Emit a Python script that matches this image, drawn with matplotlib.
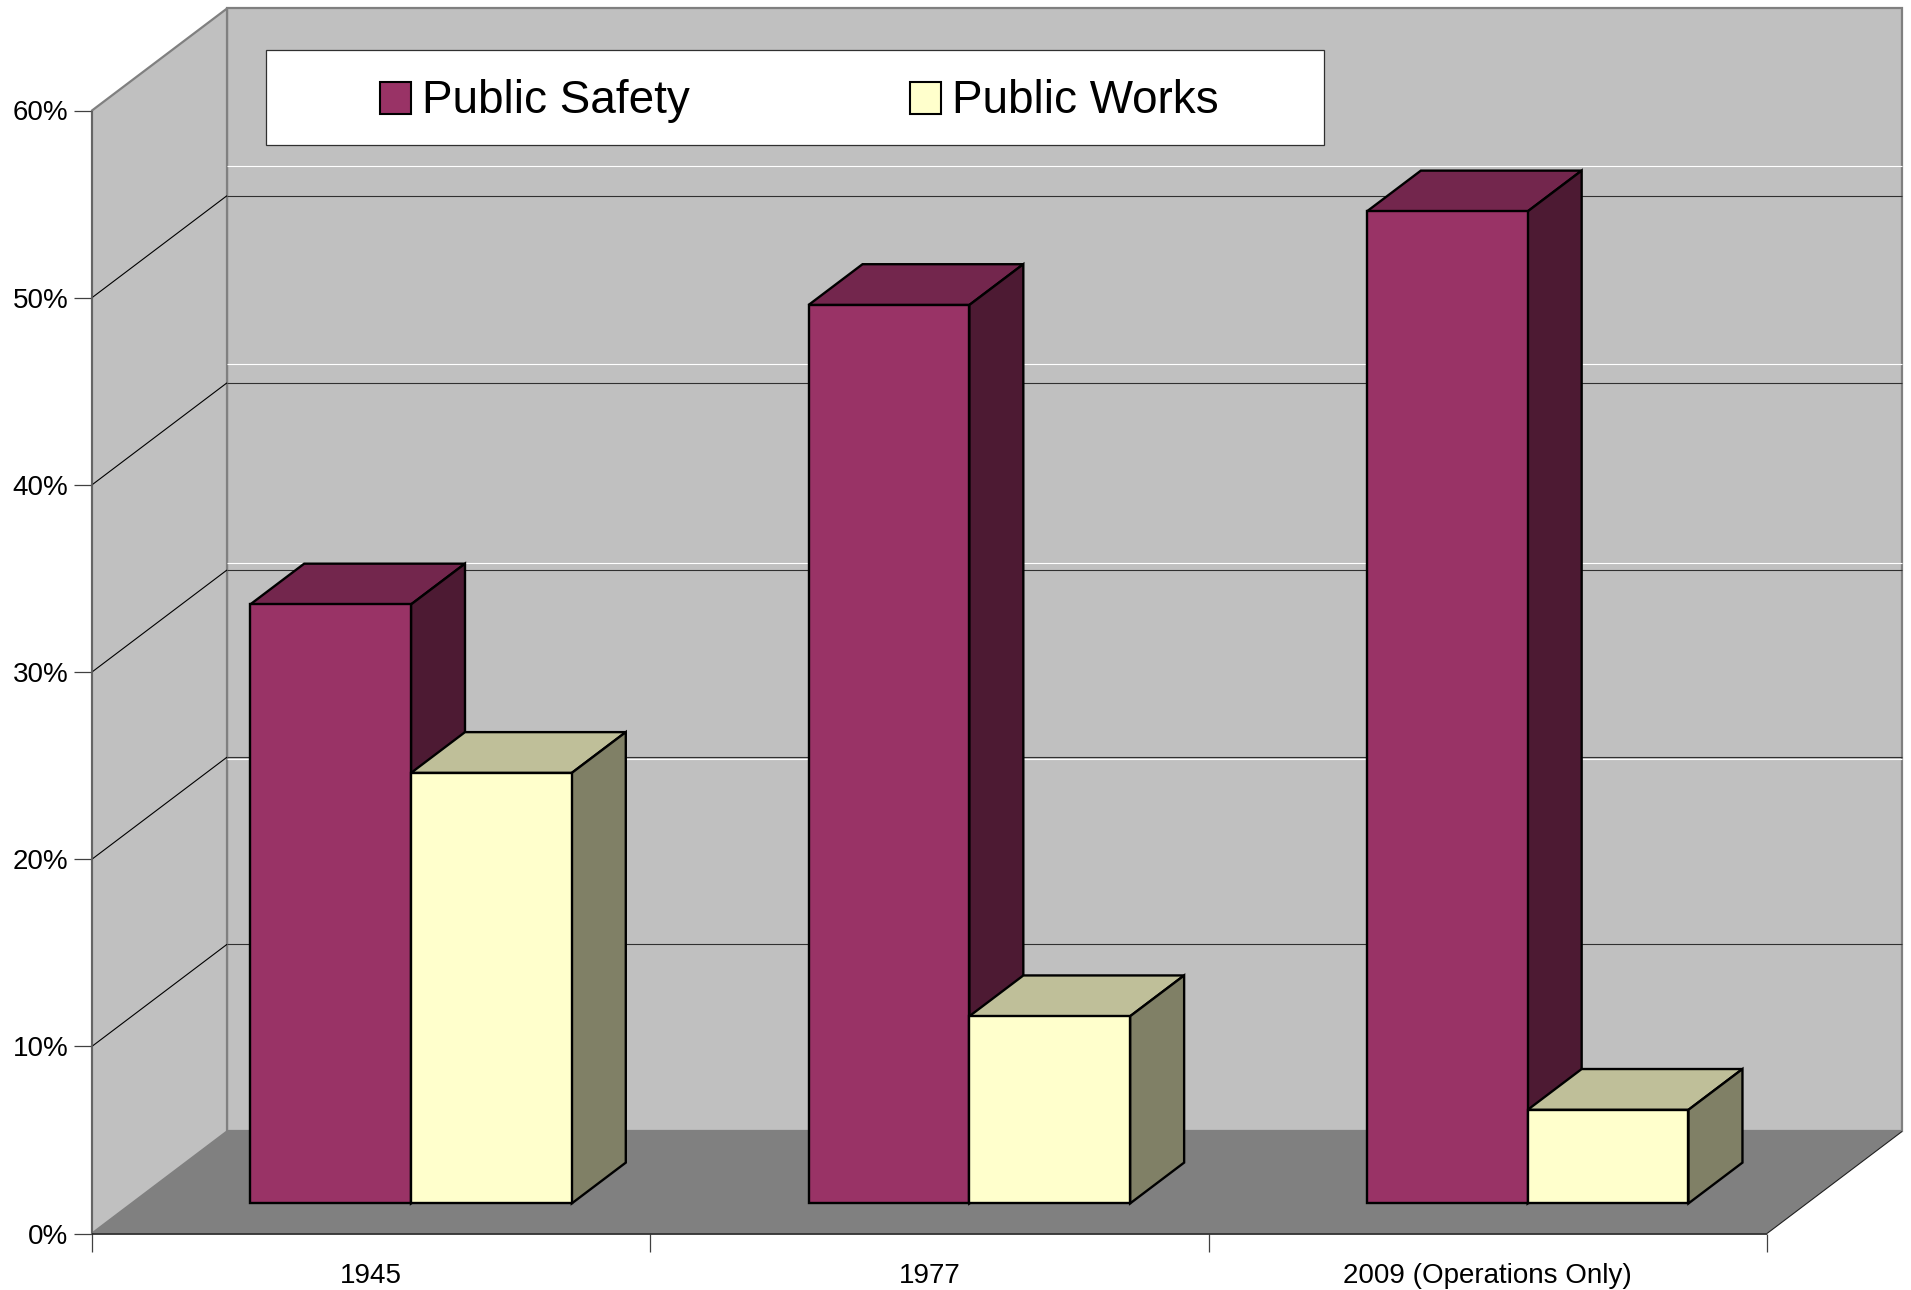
import matplotlib
matplotlib.use('Agg')
import matplotlib.pyplot as plt
from matplotlib.patches import Polygon, Rectangle

plt.rcParams['font.family'] = ['Liberation Sans', 'DejaVu Sans']

# данные
categories = ['1945', '1977', '2009 (Operations Only)']
public_safety = [32, 48, 53]
public_works = [23, 10, 5]
y_ticks = [0, 10, 20, 30, 40, 50, 60]
y_labels = ['0%', '10%', '20%', '30%', '40%', '50%', '60%']
white_lines = [51.6, 41.0, 30.4, 19.9]  # белые линии на задней стенке, в процентах

W, H = 1911, 1290
LEFT, RIGHT, TOP, BOTTOM = 92, 1767, 110.5, 1233.5

# глубина в единицах осей
DX, DY = 0.2418, 5.45
BAR_W = 0.288
BAR_START = 0.295  # где передняя грань столбцов внутри глубины
BAR_DEPTH = 0.4

fig = plt.figure(figsize=(W / 100, H / 100), dpi=100, facecolor='white')
ax = fig.add_axes([LEFT / W, 1 - BOTTOM / H, (RIGHT - LEFT) / W, (BOTTOM - TOP) / H])
ax.set_xlim(0, 3)
ax.set_ylim(0, 60)
ax.patch.set_visible(False)
for s in ax.spines.values():
    s.set_visible(False)


def poly(pts, fc, ec='none', lw=0, z=1):
    ax.add_patch(Polygon(pts, closed=True, facecolor=fc, edgecolor=ec, linewidth=lw,
                         joinstyle='miter', clip_on=False, zorder=z))


def line(xs, ys, color, lw=0.8, z=2):
    ax.plot(xs, ys, color=color, lw=lw, clip_on=False, zorder=z, solid_capstyle='butt')


# стенки и пол
poly([(DX, DY), (3 + DX, DY), (3 + DX, 60 + DY), (DX, 60 + DY)], '#C0C0C0', '#808080', 1.6)
poly([(0, 0), (DX, DY), (DX, 60 + DY), (0, 60)], '#C0C0C0', '#808080', 1.6)
poly([(0, 0), (3, 0), (3 + DX, DY), (DX, DY)], '#808080')
line([0, 3], [0, 0], '#202020', 1.2, 3)
line([3, 3 + DX], [0, DY], '#202020', 0.8, 3)

# сетка
for v in y_ticks[1:-1]:
    line([0, DX], [v, v + DY], 'black')
    line([DX, 3 + DX], [v + DY, v + DY], '#303030')
for v in white_lines:
    line([DX, 3 + DX], [v + DY, v + DY], 'white')


def bar3d(x, val, front, top, side):
    x0 = x + BAR_START * DX
    y0 = BAR_START * DY
    x1 = x0 + BAR_W
    y1 = y0 + val
    dx, dy = BAR_DEPTH * DX, BAR_DEPTH * DY
    poly([(x0, y1), (x1, y1), (x1 + dx, y1 + dy), (x0 + dx, y1 + dy)], top, 'black', 1.7, 5)
    poly([(x1, y0), (x1 + dx, y0 + dy), (x1 + dx, y1 + dy), (x1, y1)], side, 'black', 1.7, 5)
    poly([(x0, y0), (x1, y0), (x1, y1), (x0, y1)], front, 'black', 1.7, 5)


for i in range(len(categories)):
    bar3d(i + 0.5 - BAR_W, public_safety[i], '#993366', '#73264D', '#4D1A33')
    bar3d(i + 0.5, public_works[i], '#FFFFCC', '#BFBF99', '#808066')

# оси
ax.set_yticks(y_ticks)
ax.set_yticklabels(y_labels, fontsize=20)
ax.set_xticks([0, 1, 2, 3])
ax.set_xticklabels([])
ax.set_xticks([0.5, 1.5, 2.5], minor=True)
ax.set_xticklabels(categories, minor=True, fontsize=20)
ax.tick_params(axis='y', length=13, width=0.9, color='#404040', pad=4)
ax.tick_params(axis='x', which='major', length=13, width=0.9, color='#404040')
ax.tick_params(axis='x', which='minor', length=0, pad=21)
line([0, 0], [0, 60], '#606060', 1.2, 2)

# легенда, координаты в пикселях картинки
def px(x, y):
    return x / W, 1 - y / H


fig.add_artist(Rectangle(px(266, 145), (1324 - 266) / W, 95 / H, facecolor='white',
                         edgecolor='#303030', linewidth=0.9, transform=fig.transFigure, zorder=6))
for sx, tx, name, col in [(380, 422, 'Public Safety', '#993366'), (910, 952, 'Public Works', '#FFFFCC')]:
    fig.add_artist(Rectangle(px(sx, 114), 31 / W, 32 / H, facecolor=col, edgecolor='black',
                             linewidth=1.5, transform=fig.transFigure, zorder=7))
    xt, yt = px(tx, 101)
    fig.text(xt, yt, name, fontsize=33, va='center', ha='left', color='black', zorder=7)

fig.savefig('out.png', dpi=100)
